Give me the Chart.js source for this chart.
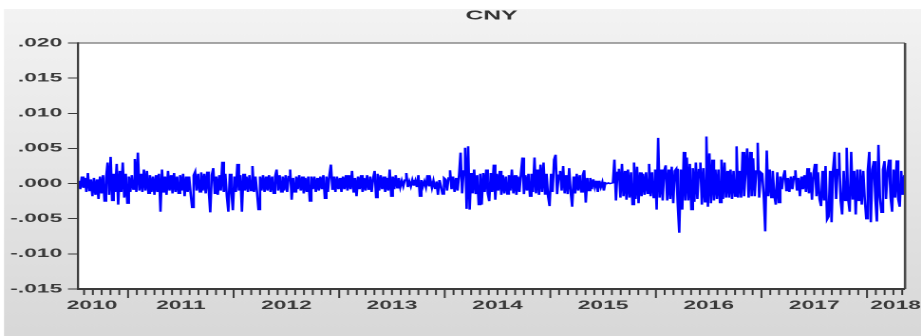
<!DOCTYPE html>
<html><head><meta charset="utf-8">
<script src="https://cdn.jsdelivr.net/npm/chart.js@4"></script>
<style>
html,body{margin:0;padding:0;background:#fff;overflow:hidden}
#wrap{position:absolute;left:0;top:0;width:485px;height:336px;transform:scale(1.8990,1);transform-origin:0 0}
</style></head><body>
<div id="wrap"><canvas id="c"></canvas></div>
<script>
// ---- data (daily CNY returns, in basis points = 0.0001) ----
const years = [2010, 2011, 2012, 2013, 2014, 2015, 2016, 2017, 2018];
const xStart = 2010.526, xEnd = 2018.36;
const cny2010 = [4,-8,10,-6,8,-12,15,-10,6,-18,8,-16,6,-22,10,-14,12,-25,8,30,-16,38,-24,14,-12,28,-30,18,-12,30,-20,14,-28];
const cny2011 = [10,-12,12,-8,35,-12,44,-10,14,-12,20,-10,18,-14,12,-12,10,-16,12,-12,14,-40,20,-12,10,-16,18,-10,12,-14,15,-12,10,-14,12,-10,14,-18,10,-12,10,-14,-34,12,17,-10,14,-12,16,-10,14,-14,17,-10,-41,12,22,-14,10,-16,12,-10,31,-12,14,-18,-40,14,-10,-38];
const cny2012 = [10,-12,28,-10,12,-40,14,-10,10,-12,12,-10,25,-12,10,-12,-37,10,-10,12,-12,10,-10,12,-12,10,-14,10,20,-10,12,-12,10,-10,12,-12,10,20,-23,8,-12,10,-8,12,-10,10,-14,8,-12,10,-25,10,-8,10,-12,8,-10,10,-8,12,-21,10,-12,12,27,-8,10,-12,10,-8];
const cny2013 = [8,-12,10,-8,12,-10,12,-8,18,-12,8,-18,10,-8,12,-12,8,-10,12,-8,10,-12,8,18,-20,14,-10,12,-8,10,-12,8,-10,20,-18,10,-8,12,-6,8,-5,4,-4,5,15,-5,3,-4,5,-3,4,-5,12,-18,5,-4,3,-5,12,-4,5,-6,4,-7,3,-16,5,-4,-15,8];
const cny2014 = [6,-10,8,19,-8,10,-12,8,-10,12,44,-14,18,51,-36,53,-37,15,-14,20,-15,12,-30,14,-30,15,-12,20,-14,-25,15,-12,27,-23,14,-10,18,-16,12,-14,10,-15,12,-10,20,-14,12,-16,10,-12,14,37,-15,12,-10,14,-18,14,-12,37,-14,20,-16,27,-12,30,-15,14,-18,-32];
const cny2015 = [14,-12,34,41,-15,12,18,-10,25,-14,12,-15,22,-12,-33,10,-14,14,-10,12,-12,12,19,-27,8,-10,8,-8,6,-5,4,-12,4,-5,2,-10,1,0,1,0,0,1,34,-24,16,21,-20,28,-18,18,-23,20,-20,16,-30,30,-22,24,-28,16,-18,14,-16,16,-14,28,-18,16,-20,20];
const cny2016 = [-37,65,-20,20,-24,18,26,-24,20,-22,24,-28,18,21,-30,-70,20,-37,45,-24,37,-24,28,-37,22,-26,30,-22,20,30,-30,22,-26,67,-33,43,-28,34,-24,20,-22,20,-27,34,-22,30,-20,18,-20,20,-22,18,-18,53,-20,18,-20,45,-18,18,50,-20,45,-18,36,-18,18,58,-20,16];
const cny2017 = [14,-18,-68,47,-18,20,-20,18,-16,-30,16,-27,10,-8,10,19,-10,8,-12,10,-8,10,19,-10,8,-18,10,-8,12,-12,22,-14,16,-23,14,28,-18,16,-22,-32,18,-24,25,-51,-47,18,-55,20,45,-22,20,44,-24,-44,18,-24,51,-22,-40,45,-22,18,-44,20,-24,20,-30,18,-22,-50];
const cny2018 = [18,45,-55,20,32,-22,-54,55,-20,-41,20,32,-22,18,34,-20,-40,20,-20,33,-22,-33,18,-16,12];
const seriesByYear = [cny2010, cny2011, cny2012, cny2013, cny2014, cny2015, cny2016, cny2017, cny2018];
const yTicks = [-0.015, -0.010, -0.005, 0, 0.005, 0.010, 0.015, 0.020];
const xLabels = ['2010','2011','2012','2013','2014','2015','2016','2017','2018'];
const xLabelPos = [2010.659, 2011.5, 2012.5, 2013.5, 2014.5, 2015.5, 2016.5, 2017.5, 2018.27];

// ---- build points ----
const points = [];
seriesByYear.forEach((arr, k) => {
  const a = Math.max(years[k], xStart), b = Math.min(years[k] + 1, xEnd);
  arr.forEach((v, i) => points.push({x: a + (i + 0.5) * (b - a) / arr.length, y: v / 10000}));
});

const SX = 921 / 485;
const FONT = '"Liberation Sans", Arial, sans-serif';

const framePlugin = {
  id: 'frame',
  beforeDraw(chart) {
    const {ctx, width, height, chartArea: a} = chart;
    ctx.save();
    ctx.fillStyle = '#ffffff';
    ctx.fillRect(0, 0, width, height);
    const g = ctx.createLinearGradient(0, 9, 0, height);
    g.addColorStop(0, '#f3f3f3');
    g.addColorStop(1, '#d8d8d8');
    ctx.fillStyle = g;
    ctx.fillRect(4 / SX, 9, width, height);
    ctx.fillStyle = '#ffffff';
    ctx.fillRect(a.left, a.top, a.right - a.left, a.bottom - a.top);
    ctx.restore();
  },
  afterDraw(chart) {
    const {ctx, chartArea: a, scales: {x}} = chart;
    ctx.save();
    ctx.strokeStyle = '#3a3a3a';
    ctx.lineWidth = 1;
    for (const yr of years) {
      for (let m = 0; m < 12; m++) {
        const v = yr + m / 12;
        if (v < x.min || v > x.max) continue;
        const px = x.getPixelForValue(v);
        ctx.beginPath();
        ctx.moveTo(px, a.bottom);
        ctx.lineTo(px, a.bottom + (m === 0 ? 9 : 6));
        ctx.stroke();
      }
    }
    ctx.strokeStyle = '#8a8a8a'; ctx.lineWidth = 1.5;
    ctx.beginPath(); ctx.moveTo(a.left, a.top); ctx.lineTo(a.right, a.top); ctx.stroke();
    ctx.strokeStyle = '#4a4a4a'; ctx.lineWidth = 1.3;
    ctx.beginPath(); ctx.moveTo(a.right, a.top); ctx.lineTo(a.right, a.bottom); ctx.stroke();
    ctx.strokeStyle = '#3a3a3a'; ctx.lineWidth = 1.1;
    ctx.beginPath(); ctx.moveTo(a.left, a.top - 0.7); ctx.lineTo(a.left, a.bottom + 1); ctx.stroke();
    ctx.lineWidth = 2;
    ctx.beginPath(); ctx.moveTo(a.left, a.bottom); ctx.lineTo(a.right, a.bottom); ctx.stroke();
    ctx.restore();
  }
};

new Chart(document.getElementById('c'), {
  type: 'line',
  data: {
    datasets: [{
      label: 'CNY',
      data: points,
      borderColor: '#0000ff',
      borderWidth: 1.3,
      pointRadius: 0,
      tension: 0,
      fill: false
    }]
  },
  options: {
    responsive: true,
    maintainAspectRatio: false,
    devicePixelRatio: 2,
    animation: false,
    layout: {padding: {left: 0, top: 0, right: 485 - 905 / SX, bottom: 0}},
    plugins: {
      legend: {display: false},
      tooltip: {enabled: false},
      title: {
        display: true, text: 'CNY', fullSize: false,
        color: '#333333',
        font: {family: FONT, size: 13, weight: 'bold'},
        padding: {top: 8, bottom: 19.4}
      }
    },
    scales: {
      x: {
        type: 'linear', min: xStart, max: xEnd,
        afterBuildTicks: s => { s.ticks = xLabelPos.map(v => ({value: v})); },
        afterFit: s => { s.height = 47; s.paddingLeft = 0; s.paddingRight = 0; },
        grid: {display: false, drawTicks: false},
        border: {display: false},
        ticks: {
          autoSkip: false, maxRotation: 0, padding: 9.5,
          color: '#3a3a3a', font: {family: FONT, size: 12, weight: 'bold'},
          callback: (v, i) => xLabels[i]
        }
      },
      y: {
        type: 'linear', min: -0.015, max: 0.020,
        afterBuildTicks: s => { s.ticks = yTicks.map(v => ({value: v})); },
        afterFit: s => { s.width = 78 / SX; },
        grid: {drawOnChartArea: false, drawTicks: true, tickLength: 5.3, color: '#3a3a3a', lineWidth: 1},
        border: {display: false},
        ticks: {
          padding: 3, color: '#3a3a3a', font: {family: FONT, size: 12, weight: 'bold'},
          callback: v => Math.abs(v) < 1e-9 ? '.000' : (v < 0 ? '-' : '') + Math.abs(v).toFixed(3).replace(/^0/, '')
        }
      }
    }
  },
  plugins: [framePlugin]
});
</script>
</body></html>
